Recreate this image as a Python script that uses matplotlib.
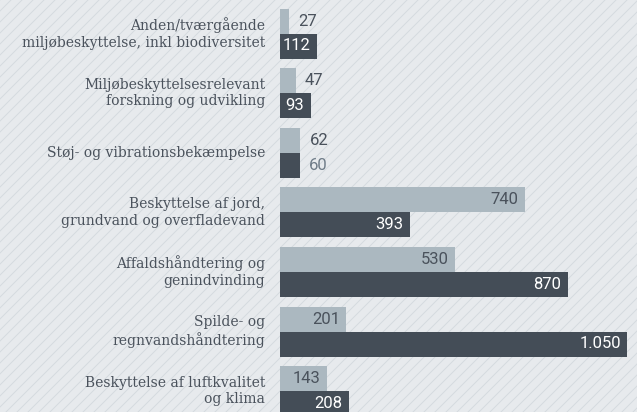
import matplotlib
matplotlib.use("Agg")
import matplotlib.pyplot as plt
from matplotlib.lines import Line2D
import numpy as np

categories = [
    "Anden/tværgående\nmiljøbeskyttelse, inkl biodiversitet",
    "Miljøbeskyttelsesrelevant\nforskning og udvikling",
    "Støj- og vibrationsbekæmpelse",
    "Beskyttelse af jord,\ngrundvand og overfladevand",
    "Affaldshåndtering og\ngenindvinding",
    "Spilde- og\nregnvandshåndtering",
    "Beskyttelse af luftkvalitet\nog klima",
]
series_light = [27, 47, 62, 740, 530, 201, 143]
series_dark = [112, 93, 60, 393, 870, 1050, 208]

W, H = 637, 412
fig = plt.figure(figsize=(W / 100, H / 100), dpi=100)
bg = "#e7eaed"
fig.patch.set_facecolor(bg)

# diagonal background hatching
for c in range(-H, W + 11, 11):
    fig.add_artist(Line2D([c / W, (c + H) / W], [0, 1], transform=fig.transFigure,
                          color="#d5dadf", lw=0.7, zorder=0))

ax = fig.add_axes([280 / W, 0, 1 - 280 / W, 1])
ax.set_facecolor("none")
ax.set_xlim(0, 1080)
spacing = 59.6
ax.set_ylim((H - 33.5) / spacing, -33.5 / spacing)
ax.axis("off")

light_c = "#abb8c0"
dark_c = "#444d57"
text_c = "#4a525c"
h = 25 / spacing
y = np.arange(len(categories))

ax.barh(y - h / 2, series_light, height=h, color=light_c, zorder=2)
ax.barh(y + h / 2, series_dark, height=h, color=dark_c, zorder=2)

def fmt(v):
    return f"{v:,}".replace(",", ".")

vfont = dict(family="Roboto", fontsize=12)
for i in range(len(categories)):
    for val, yy, is_dark in ((series_light[i], y[i] - h / 2, False), (series_dark[i], y[i] + h / 2, True)):
        if val > 80:
            col = "white" if is_dark else text_c
            ax.text(val - 19, yy, fmt(val), ha="right", va="center", color=col, zorder=3, **vfont)
        else:
            col = "#6f7c88" if is_dark else text_c
            ax.text(val + 28, yy, fmt(val), ha="left", va="center", color=col, zorder=3, **vfont)
    ax.text(-45, y[i], categories[i], ha="right", va="center", color=text_c,
            family="DejaVu Serif", fontsize=10, linespacing=1.25, clip_on=False)

fig.savefig("out.png", dpi=100, facecolor=bg)
